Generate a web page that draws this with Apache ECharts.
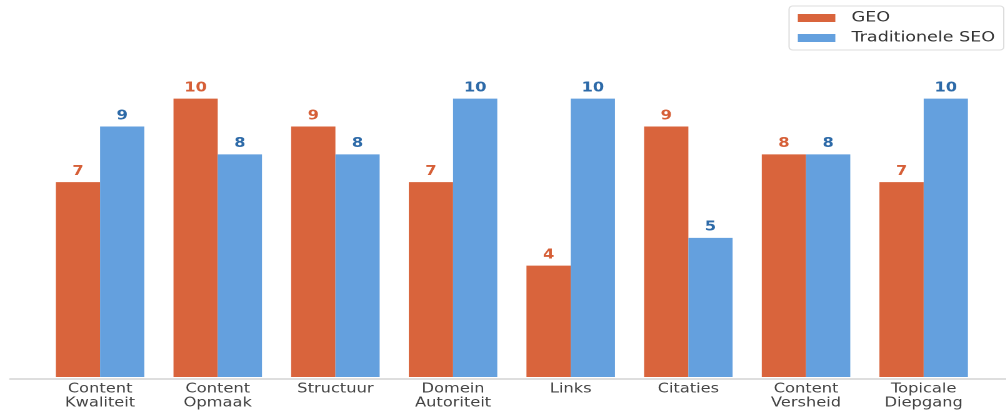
<!DOCTYPE html>
<html>
<head>
<meta charset="utf-8">
<script src="https://cdn.jsdelivr.net/npm/echarts@6/dist/echarts.min.js"></script>
<style>
html,body{margin:0;padding:0;background:#fff;overflow:hidden;}
#wrap{width:1006px;height:410px;overflow:hidden;}
#c{width:805px;height:410px;transform:scaleX(1.25);transform-origin:0 0;}
</style>
</head>
<body>
<div id="wrap"><div id="c"></div></div>
<script>
const categories = ["Content\nKwaliteit","Content\nOpmaak","Structuur","Domein\nAutoriteit","Links","Citaties","Content\nVersheid","Topicale\nDiepgang"];
const geoValues = [7,10,9,7,4,9,8,7];
const seoValues = [9,8,8,10,10,5,8,10];
const seriesNames = ["GEO","Traditionele SEO"];

const chart = echarts.init(document.getElementById('c'), null, {renderer:'canvas', devicePixelRatio:2});
const font = "DejaVu Sans";
chart.setOption({
  animation:false,
  backgroundColor:'#ffffff',
  textStyle:{fontFamily:font},
  legend:{
    orient:'vertical', right:2, top:6,
    data:seriesNames,
    icon:'rect', itemWidth:30, itemHeight:8, itemGap:6,
    textStyle:{fontFamily:font, fontSize:14, color:'#333', padding:[0,0,0,8]},
    borderColor:'#dddddd', borderWidth:1, borderRadius:3,
    padding:[5,7,5,7]
  },
  grid:[
    {left:33, right:19, top:43, bottom:31, containLabel:false},
    {left:8, right:0, top:43, bottom:31, containLabel:false}
  ],
  xAxis:[
    {type:'category', gridIndex:0, data:categories, boundaryGap:true,
     axisLine:{show:false}, axisTick:{show:false},
     axisLabel:{interval:0, fontFamily:font, fontSize:13, color:'#444', lineHeight:14, margin:5}},
    {type:'value', gridIndex:1, min:0, max:1,
     axisLine:{show:true, lineStyle:{color:'#d4d4d4', width:1.5}},
     axisTick:{show:false}, axisLabel:{show:false}, splitLine:{show:false}}
  ],
  yAxis:[
    {type:'value', gridIndex:0, min:0, max:12, show:false, splitLine:{show:false}},
    {type:'value', gridIndex:1, min:0, max:12, show:false, splitLine:{show:false}}
  ],
  series:[
    {name:seriesNames[0], type:'bar', xAxisIndex:0, yAxisIndex:0, data:geoValues,
     barWidth:35.4, barGap:'0%', itemStyle:{color:'#d9643c'},
     label:{show:true, position:'top', distance:4, fontFamily:font, fontWeight:'bold', fontSize:13, color:'#d65f37'}},
    {name:seriesNames[1], type:'bar', xAxisIndex:0, yAxisIndex:0, data:seoValues,
     barWidth:35.4, barGap:'0%', itemStyle:{color:'#64a0de'},
     label:{show:true, position:'top', distance:4, fontFamily:font, fontWeight:'bold', fontSize:13, color:'#2d6aa8'}}
  ]
});
</script>
</body>
</html>
